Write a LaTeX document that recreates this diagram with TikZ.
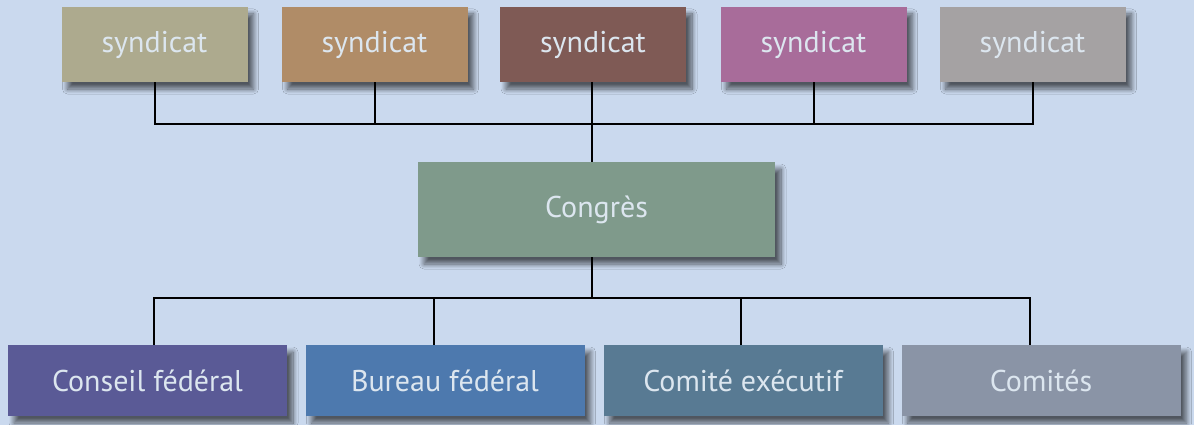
\documentclass[tikz,border=0pt]{standalone}
\usepackage{fontspec}
\setmainfont{PT Sans}
\usetikzlibrary{shadows.blur}
\definecolor{bg}{HTML}{CAD9EE}
\definecolor{txt}{HTML}{DCE6EF}
\definecolor{cA}{HTML}{ADAA8E}
\definecolor{cB}{HTML}{B08C67}
\definecolor{cC}{HTML}{7F5A55}
\definecolor{cD}{HTML}{A86C9A}
\definecolor{cE}{HTML}{A5A2A3}
\definecolor{cF}{HTML}{7F9A8B}
\definecolor{cG}{HTML}{5A5A96}
\definecolor{cH}{HTML}{4D79AE}
\definecolor{cI}{HTML}{587A93}
\definecolor{cJ}{HTML}{8A94A6}
\tikzset{
  box/.style={rectangle, inner sep=0pt, text=txt, font=\fontsize{30}{34}\selectfont,
    blur shadow={shadow xshift=6pt, shadow yshift=-7pt, shadow blur steps=10, shadow blur radius=5pt, shadow opacity=60}},
  top/.style={box, minimum width=186pt, minimum height=75pt},
  bot/.style={box, minimum width=279pt, minimum height=71pt},
  link/.style={draw=black, line width=2pt}
}
\begin{document}
\begin{tikzpicture}[x=1pt,y=-1pt]
\path[fill=bg, use as bounding box] (0,0) rectangle (1194,425);
\node[top, fill=cA] (s1) at (154.5,44.5) {\raisebox{3pt}{syndicat}};
\node[top, fill=cB] (s2) at (374.5,44.5) {\raisebox{3pt}{syndicat}};
\node[top, fill=cC] (s3) at (593,44.5) {\raisebox{3pt}{syndicat}};
\node[top, fill=cD] (s4) at (813.5,44.5) {\raisebox{3pt}{syndicat}};
\node[top, fill=cE] (s5) at (1032.5,44.5) {\raisebox{3pt}{syndicat}};
\node[box, fill=cF, minimum width=357pt, minimum height=95pt] (cong) at (596.5,209.5) {\raisebox{6pt}{Congrès}};
\node[bot, fill=cG] (b1) at (147.5,380.5) {Conseil fédéral};
\node[bot, fill=cH] (b2) at (445,380.5) {Bureau fédéral};
\node[bot, fill=cI] (b3) at (743,380.5) {Comité exécutif};
\node[bot, fill=cJ] (b4) at (1041,380.5) {Comités};
\coordinate (tb) at (592,124);
\coordinate (bb) at (592,298);
\draw[link] (s1.south) |- (tb) -| (s5.south);
\draw[link] (s2.south) -- (s2.south |- tb);
\draw[link] (s4.south) -- (s4.south |- tb);
\draw[link] ([xshift=-1pt]s3.south) -- ([xshift=-1pt]s3.south |- cong.north);
\draw[link] (bb |- cong.south) -- (bb);
\draw[link] ([xshift=6pt]b1.north) |- (bb) -| ([xshift=-11pt]b4.north);
\draw[link] ([xshift=-11pt]b2.north) -- ([xshift=-11pt]b2.north |- bb);
\draw[link] ([xshift=-2pt]b3.north) -- ([xshift=-2pt]b3.north |- bb);
\end{tikzpicture}
\end{document}
